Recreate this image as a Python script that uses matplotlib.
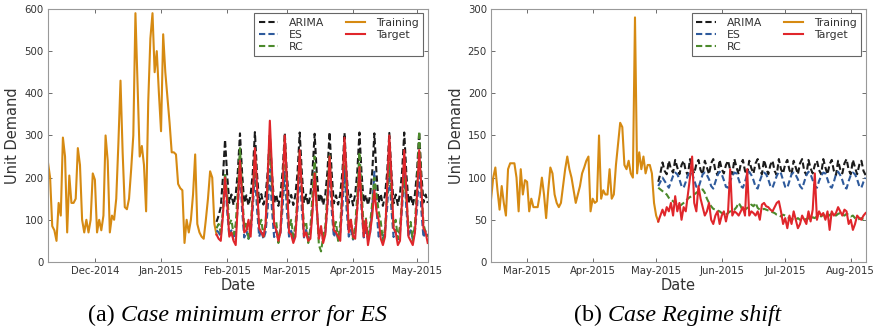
import pandas as pd
import matplotlib
matplotlib.use('Agg')
import matplotlib.pyplot as plt
import matplotlib.dates as mdates

# ---- (a) case minimum error for ES ----
a_train_start = '2014-11-09'
a_fc_start = '2015-01-27'
a_train = [236, 200, 85, 75, 50, 140, 110, 295, 250, 70,
           205, 140, 140, 150, 270, 230, 100, 70, 100, 70,
           100, 210, 195, 70, 100, 75, 110, 300, 240, 70,
           110, 100, 150, 280, 430, 260, 130, 125, 150, 220,
           300, 590, 420, 250, 275, 230, 120, 380, 530, 590,
           450, 500, 400, 310, 540, 450, 390, 330, 260, 260,
           255, 185, 175, 170, 45, 100, 70, 100, 160, 255,
           90, 70, 60, 55, 100, 150, 215, 200, 90, 65]
a_arima = [95, 110, 130, 200, 290, 205, 140,
           160, 135, 160, 215, 305, 210, 140,
           158, 134, 160, 212, 308, 208, 141,
           161, 136, 158, 214, 300, 210, 139,
           160, 133, 161, 216, 306, 207, 140,
           159, 135, 160, 213, 307, 211, 140,
           160, 134, 159, 215, 304, 209, 141,
           161, 135, 160, 214, 308, 210, 139,
           158, 136, 161, 213, 306, 208, 140,
           160, 134, 160, 215, 307, 210, 141,
           159, 135, 158, 214, 305, 209, 140,
           161, 133, 160, 213, 306, 211, 139,
           160, 135, 161, 215, 307, 208, 140,
           159, 134, 160, 214, 308, 210, 141,
           160, 140]
a_es = [75, 70, 60, 115, 205, 120, 60,
        75, 52, 72, 130, 218, 122, 58,
        74, 55, 70, 128, 212, 125, 60,
        76, 54, 71, 126, 220, 124, 59,
        75, 53, 70, 130, 214, 121, 60,
        74, 55, 72, 127, 216, 123, 58,
        76, 54, 70, 128, 213, 125, 60,
        75, 52, 71, 129, 218, 122, 59,
        74, 55, 70, 126, 222, 124, 60,
        76, 53, 72, 128, 215, 123, 58,
        75, 54, 70, 127, 214, 125, 60,
        74, 55, 71, 130, 217, 122, 59,
        76, 53, 70, 128, 215, 124, 60,
        75, 54, 72, 127, 216, 123, 58,
        74, 60]
a_rc = [80, 90, 70, 120, 210, 160, 90,
        100, 65, 90, 170, 270, 170, 80,
        95, 55, 85, 160, 250, 165, 85,
        100, 60, 90, 180, 300, 180, 90,
        95, 45, 80, 170, 290, 160, 80,
        100, 60, 85, 160, 260, 165, 85,
        95, 45, 80, 160, 250, 130, 40,
        25, 60, 85, 165, 255, 160, 80,
        95, 50, 90, 170, 280, 165, 85,
        100, 55, 85, 160, 260, 170, 80,
        105, 60, 90, 140, 200, 160, 120,
        95, 50, 80, 160, 250, 160, 85,
        100, 55, 85, 150, 200, 150, 80,
        95, 50, 90, 180, 310, 180, 90,
        70, 60]
a_target = [65, 55, 50, 110, 200, 140, 60,
            70, 50, 40, 140, 240, 150, 70,
            75, 100, 60, 150, 270, 180, 80,
            70, 60, 90, 200, 335, 220, 90,
            75, 50, 70, 180, 300, 190, 70,
            65, 45, 60, 150, 265, 170, 60,
            70, 50, 55, 120, 210, 130, 55,
            85, 45, 65, 140, 250, 160, 75,
            70, 60, 50, 170, 295, 200, 70,
            100, 60, 55, 130, 225, 140, 60,
            100, 40, 70, 110, 170, 120, 100,
            55, 40, 60, 180, 300, 200, 80,
            70, 40, 50, 150, 265, 170, 60,
            50, 40, 70, 160, 265, 180, 80,
            70, 45]

# ---- (b) case regime shift ----
b_train_start = '2015-02-12'
b_fc_start = '2015-05-02'
b_train = [75, 100, 112, 85, 62, 90, 70, 55, 110, 117,
           117, 117, 100, 60, 110, 80, 97, 95, 60, 75,
           65, 65, 65, 80, 100, 80, 52, 85, 112, 105,
           80, 70, 65, 70, 90, 110, 125, 110, 100, 85,
           70, 80, 90, 105, 112, 120, 125, 60, 75, 70,
           72, 150, 75, 85, 80, 80, 110, 75, 80, 115,
           140, 165, 160, 115, 110, 120, 105, 100, 290, 105,
           130, 110, 125, 105, 115, 115, 105, 70, 55, 48]
b_arima = [95, 105, 118, 108, 104, 120, 110, 106,
           121, 112, 104, 115, 120, 108, 103,
           122, 111, 105, 116, 121, 109, 104,
           120, 112, 104, 117, 122, 108, 103,
           121, 110, 105, 115, 120, 109, 104,
           122, 112, 104, 116, 121, 108, 103,
           120, 111, 105, 117, 122, 109, 104,
           121, 112, 104, 115, 120, 108, 103,
           122, 110, 105, 116, 121, 109, 104,
           120, 112, 104, 117, 122, 108, 103,
           121, 111, 105, 115, 120, 109, 104,
           122, 112, 104, 116, 121, 108, 103,
           120, 110, 105, 117, 122, 109, 104,
           121, 112, 104, 115, 120, 108, 103]
b_es = [90, 95, 100, 96, 92, 88, 95, 102,
        106, 104, 98, 90, 88, 95, 103,
        107, 105, 97, 89, 88, 96, 104,
        106, 103, 98, 90, 87, 95, 103,
        107, 104, 97, 89, 88, 96, 102,
        106, 105, 98, 90, 88, 95, 104,
        107, 103, 97, 89, 87, 96, 103,
        106, 104, 98, 90, 88, 95, 102,
        107, 105, 97, 89, 88, 96, 104,
        106, 103, 98, 90, 87, 95, 103,
        107, 104, 97, 89, 88, 96, 102,
        106, 105, 98, 90, 88, 95, 104,
        107, 103, 97, 89, 87, 96, 103,
        106, 104, 98, 90, 88, 95, 100]
b_rc = [88, 86, 84, 82, 80, 76, 74, 72,
        70, 68, 66, 68, 70, 72, 75,
        77, 78, 80, 82, 84, 85, 86,
        82, 75, 70, 66, 63, 62, 61,
        60, 58, 57, 56, 58, 60, 61,
        62, 65, 70, 66, 60, 62, 64,
        65, 68, 66, 70, 64, 62, 62,
        63, 62, 61, 60, 59, 58, 56,
        55, 54, 56, 55, 53, 52, 51,
        50, 50, 52, 50, 49, 50, 51,
        52, 50, 53, 52, 54, 55, 54,
        56, 55, 57, 55, 58, 56, 55,
        57, 58, 56, 55, 57, 56, 54,
        55, 52, 50, 51, 52, 50, 52]
b_target = [48, 55, 62, 55, 65, 60, 70, 55,
            78, 60, 70, 50, 65, 60, 80,
            100, 125, 70, 60, 90, 75, 65,
            55, 60, 70, 50, 45, 55, 60,
            45, 55, 60, 48, 60, 110, 55,
            60, 58, 55, 60, 65, 55, 110,
            55, 60, 58, 55, 60, 50, 68,
            70, 66, 65, 62, 60, 65, 70,
            72, 60, 45, 52, 40, 55, 45,
            60, 50, 40, 45, 55, 50, 45,
            60, 48, 62, 105, 50, 60, 55,
            58, 50, 60, 38, 60, 55, 58,
            65, 60, 55, 62, 60, 45, 50,
            38, 45, 55, 52, 50, 55, 58]

labels = ['ARIMA', 'ES', 'RC', 'Training', 'Target']
colors = ['#1b1b1b', '#2e5a9c', '#4c8a2c', '#d68a12', '#e0262b']

plt.rcParams['font.family'] = 'DejaVu Sans'
fig = plt.figure(figsize=(8.77, 3.32), dpi=100)
ax1 = fig.add_axes([0.0547, 0.211, 0.433, 0.762])
ax2 = fig.add_axes([0.560, 0.211, 0.427, 0.762])


def draw(ax, tr_start, train, fc_start, arima, es, rc, target, xlim, ymax, ystep):
    t_tr = pd.date_range(tr_start, periods=len(train), freq='D')
    t_fc = pd.date_range(fc_start, periods=len(target), freq='D')
    hs = []
    hs.append(ax.plot(t_fc, arima, '--', color=colors[0], lw=1.5, dashes=(3, 1.5), zorder=3)[0])
    hs.append(ax.plot(t_fc, es, '--', color=colors[1], lw=1.5, dashes=(3, 1.5), zorder=3)[0])
    hs.append(ax.plot(t_fc, rc, '--', color=colors[2], lw=1.5, dashes=(3, 1.5), zorder=3)[0])
    hs.append(ax.plot(t_tr, train, '-', color=colors[3], lw=1.5, zorder=2)[0])
    hs.append(ax.plot(t_fc, target, '-', color=colors[4], lw=1.5, zorder=4)[0])
    ax.set_xlim(pd.Timestamp(xlim[0]), pd.Timestamp(xlim[1]))
    ax.set_ylim(0, ymax)
    ax.set_yticks(range(0, ymax + 1, ystep))
    ax.xaxis.set_major_locator(mdates.MonthLocator())
    ax.xaxis.set_major_formatter(mdates.DateFormatter('%b-%Y'))
    ax.tick_params(direction='in', top=True, right=True, length=3, width=0.6,
                   labelsize=7.3, colors='#555555', labelcolor='#333333', pad=3)
    for s in ax.spines.values():
        s.set_color('#999999')
        s.set_linewidth(0.8)
    ax.set_xlabel('Date', fontsize=10.5, color='#333333', labelpad=1)
    ax.set_ylabel('Unit Demand', fontsize=10.5, color='#333333', labelpad=3)
    leg = ax.legend(hs, labels, ncol=2, loc='upper right', fontsize=7.8,
                    fancybox=False, framealpha=1, edgecolor='#666666',
                    handlelength=1.8, columnspacing=2.0, borderaxespad=0.4,
                    labelspacing=0.2, handletextpad=1.0)
    leg.get_frame().set_linewidth(0.8)
    for t in leg.get_texts():
        t.set_color('#333333')


draw(ax1, a_train_start, a_train, a_fc_start, a_arima, a_es, a_rc, a_target,
     ('2014-11-09', '2015-05-06'), 600, 100)
draw(ax2, b_train_start, b_train, b_fc_start, b_arima, b_es, b_rc, b_target,
     ('2015-02-12', '2015-08-08'), 300, 50)

# captions
serif = 'Liberation Serif'
ta = fig.text(0.1003, 0.050, '(a) ', fontsize=17.3, family=serif, va='center')
ax1.annotate('Case minimum error for ES', xy=(1, 0.5), xycoords=ta, va='center',
             fontsize=17.3, family=serif, style='italic', annotation_clip=False)
tb = fig.text(0.655, 0.050, '(b) ', fontsize=17.3, family=serif, va='center')
ax2.annotate('Case Regime shift', xy=(1, 0.5), xycoords=tb, va='center',
             fontsize=17.3, family=serif, style='italic', annotation_clip=False)

fig.savefig('out.png', dpi=100)
